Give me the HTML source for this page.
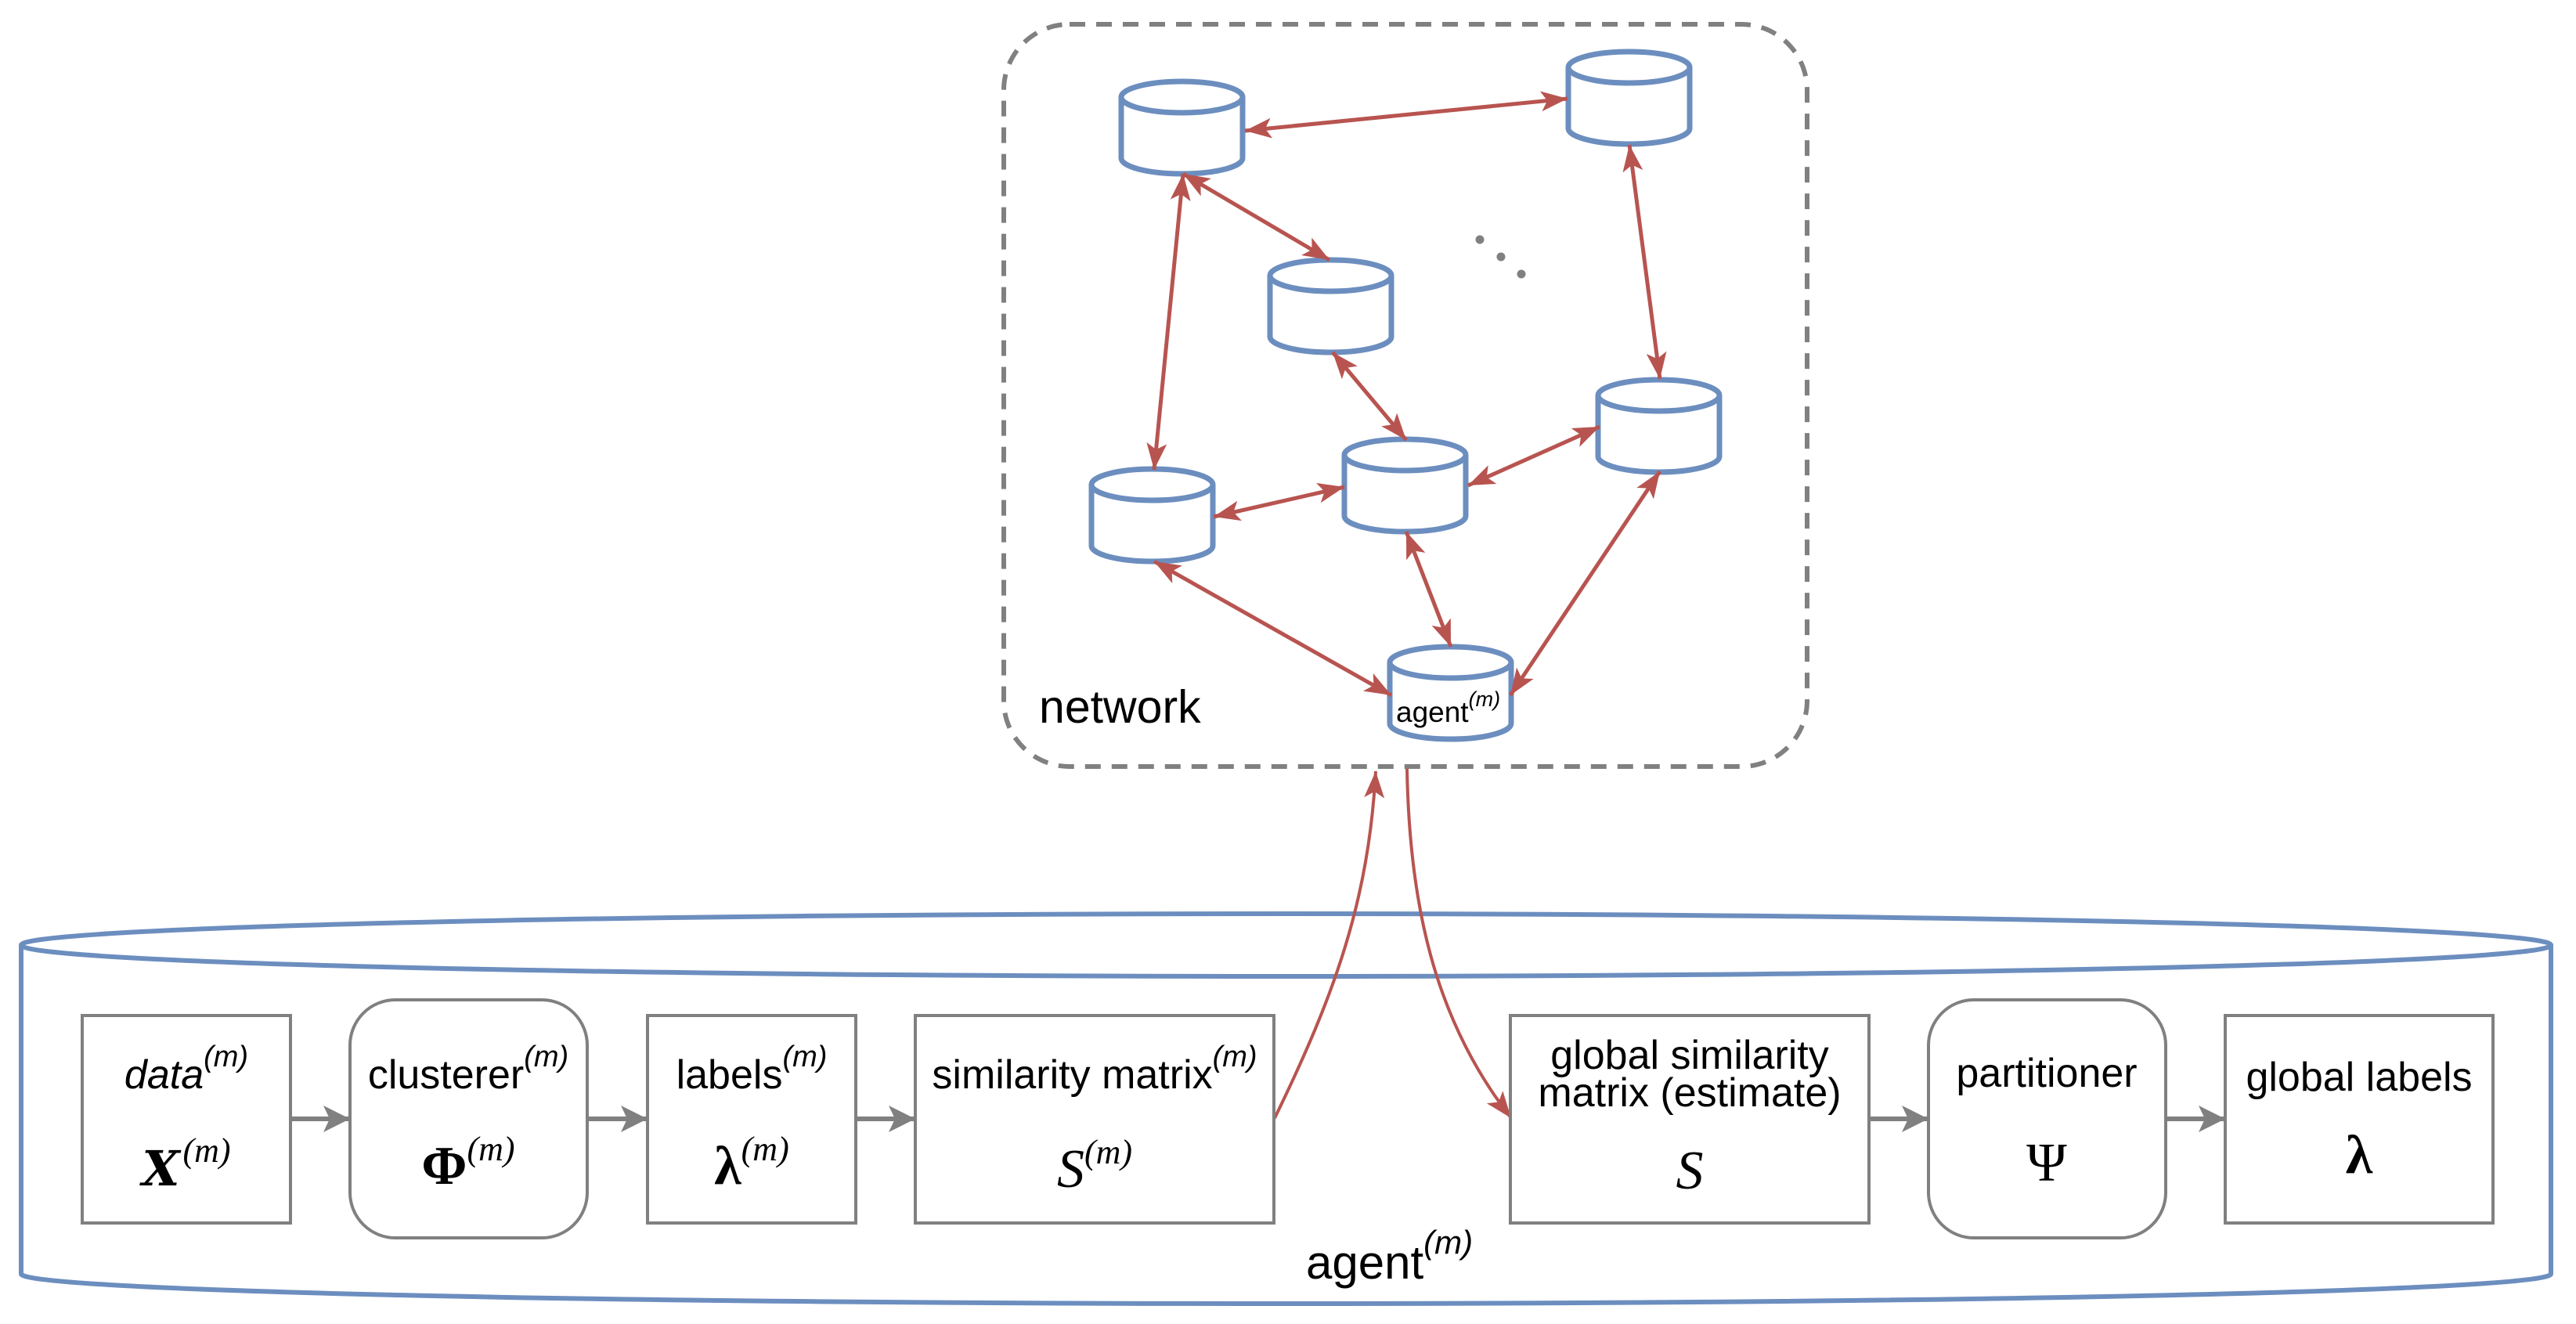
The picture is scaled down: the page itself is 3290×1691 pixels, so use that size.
<!DOCTYPE html>
<html><head><meta charset="utf-8"><style>
html,body{margin:0;padding:0;background:#fff;}
svg{display:block;}
</style></head><body>
<svg width="3290" height="1691" viewBox="0 0 3290 1691" xmlns="http://www.w3.org/2000/svg">
<defs>
<marker id="ra" markerUnits="userSpaceOnUse" markerWidth="40" markerHeight="30" refX="34" refY="13" orient="auto-start-reverse">
<path d="M0,0 L34,13 L0,26 L8,13 z" fill="#b85450"/>
</marker>
<marker id="ga" markerUnits="userSpaceOnUse" markerWidth="40" markerHeight="40" refX="34" refY="17" orient="auto">
<path d="M0,0 L34,17 L0,34 L8,17 z" fill="#808080"/>
</marker>
<g id="cyl" fill="#fff" stroke="#6c8ebf" stroke-width="7">
<path d="M0,20 V98 A77.5,20 0 0 0 155,98 V20"/>
<ellipse cx="77.5" cy="20" rx="77.5" ry="20"/>
</g>
</defs>

<rect x="1282" y="31" width="1026" height="948" rx="84" ry="84" fill="none" stroke="#808080" stroke-width="6" stroke-dasharray="20,14"/>

<use href="#cyl" x="1432" y="104"/>
<use href="#cyl" x="2003" y="66"/>
<use href="#cyl" x="1622" y="332"/>
<use href="#cyl" x="2041" y="485"/>
<use href="#cyl" x="1717" y="561"/>
<use href="#cyl" x="1394" y="599"/>
<use href="#cyl" x="1775" y="826"/>

<circle cx="1890" cy="306" r="5.5" fill="#808080"/>
<circle cx="1917" cy="328" r="5.5" fill="#808080"/>
<circle cx="1943" cy="350" r="5.5" fill="#808080"/>

<g stroke="#b85450" stroke-width="5" fill="none" marker-start="url(#ra)" marker-end="url(#ra)">
<line x1="1590" y1="167" x2="2002" y2="126"/>
<line x1="1511" y1="222" x2="1698" y2="332"/>
<line x1="1511" y1="222" x2="1474" y2="600"/>
<line x1="2081" y1="185" x2="2120" y2="484"/>
<line x1="1702" y1="450" x2="1796" y2="562"/>
<line x1="1550" y1="660" x2="1717" y2="622"/>
<line x1="1875" y1="620" x2="2043" y2="545"/>
<line x1="1474" y1="717" x2="1777" y2="888"/>
<line x1="1796" y1="679" x2="1853" y2="826"/>
<line x1="2120" y1="602" x2="1929" y2="888"/>
</g>

<text x="1327" y="923" font-family="Liberation Sans, sans-serif" font-size="59" fill="#000">network</text>
<text x="1783" y="922" font-family="Liberation Sans, sans-serif" font-size="37" fill="#000">agent<tspan font-style="italic" font-size="27" dy="-20">(m)</tspan></text>

<g fill="none" stroke="#6c8ebf" stroke-width="6">
<path d="M27,1207 V1627 A1615.5,38 0 0 0 3258,1627 V1207"/>
<ellipse cx="1642.5" cy="1207" rx="1615.5" ry="40"/>
</g>

<g stroke="#b85450" stroke-width="4" fill="none">
<path d="M1628,1428 C1705,1270 1748,1150 1757,985" marker-end="url(#ra)"/>
<path d="M1797,982 C1800,1150 1830,1300 1930,1428" marker-end="url(#ra)"/>
</g>

<g fill="#fff" stroke="#808080" stroke-width="4">
<rect x="105" y="1297" width="266" height="265"/>
<rect x="447" y="1277" width="303" height="304" rx="58" ry="58"/>
<rect x="827" y="1297" width="266" height="265"/>
<rect x="1169" y="1297" width="458" height="265"/>
<rect x="1929" y="1297" width="458" height="265"/>
<rect x="2463" y="1277" width="303" height="304" rx="58" ry="58"/>
<rect x="2842" y="1297" width="342" height="265"/>
</g>

<g stroke="#808080" stroke-width="6" fill="none" marker-end="url(#ga)">
<line x1="371" y1="1429" x2="447" y2="1429"/>
<line x1="750" y1="1429" x2="827" y2="1429"/>
<line x1="1093" y1="1429" x2="1169" y2="1429"/>
<line x1="2387" y1="1429" x2="2463" y2="1429"/>
<line x1="2766" y1="1429" x2="2842" y2="1429"/>
</g>

<g font-family="Liberation Sans, sans-serif" font-size="52" fill="#000" text-anchor="middle">
<text x="238" y="1390"><tspan font-style="italic">data</tspan><tspan font-style="italic" font-size="38" dy="-28">(m)</tspan></text>
<text x="598" y="1390">clusterer<tspan font-style="italic" font-size="38" dy="-28">(m)</tspan></text>
<text x="960" y="1390">labels<tspan font-style="italic" font-size="38" dy="-28">(m)</tspan></text>
<text x="1398" y="1390">similarity matrix<tspan font-style="italic" font-size="38" dy="-28">(m)</tspan></text>
<text x="2158" y="1365">global similarity</text>
<text x="2158" y="1413">matrix (estimate)</text>
<text x="2614" y="1388">partitioner</text>
<text x="3013" y="1393">global labels</text>
</g>
<text x="1668" y="1633" font-family="Liberation Sans, sans-serif" font-size="60" fill="#000">agent<tspan font-style="italic" font-size="42" dy="-32">(m)</tspan></text>

<g font-family="Liberation Serif, serif" font-size="70" fill="#000" text-anchor="middle">
<text x="238" y="1514"><tspan font-family="DejaVu Serif, serif" font-style="italic" font-weight="bold" font-size="62">X</tspan><tspan font-style="italic" font-size="44" dx="4" dy="-30">(m)</tspan></text>
<text x="598" y="1512"><tspan font-weight="bold">Φ</tspan><tspan font-style="italic" font-size="44" dy="-30">(m)</tspan></text>
<text x="960" y="1512"><tspan font-weight="bold">λ</tspan><tspan font-style="italic" font-size="44" dy="-30">(m)</tspan></text>
<text x="1398" y="1516"><tspan font-style="italic">S</tspan><tspan font-style="italic" font-size="44" dy="-30">(m)</tspan></text>
<text x="2158" y="1518" font-style="italic">S</text>
<text x="2614" y="1508">Ψ</text>
<text x="3013" y="1498" font-weight="bold">λ</text>
</g>
</svg>
</body></html>
